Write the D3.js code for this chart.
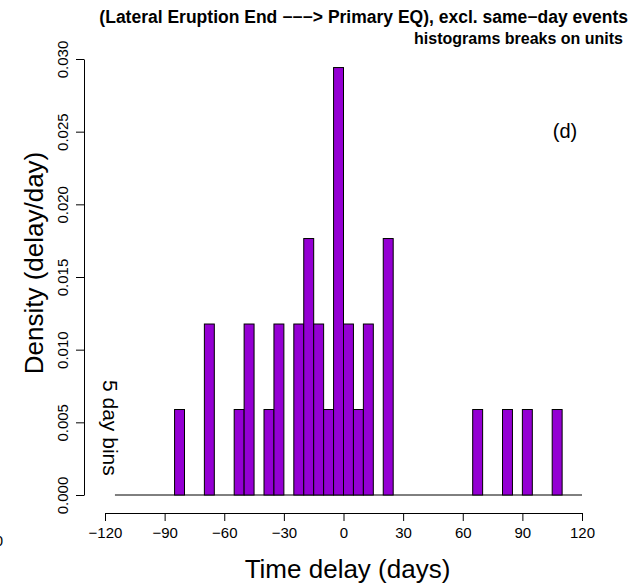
<!DOCTYPE html>
<html>
<head>
<meta charset="utf-8">
<script src="https://cdn.jsdelivr.net/npm/d3@7/dist/d3.min.js"></script>
<style>
  html, body { margin: 0; padding: 0; background: #fff; }
  svg { display: block; font-family: "Liberation Sans", Arial, Helvetica, sans-serif; }
</style>
</head>
<body>
<svg id="chart" width="633" height="583"></svg>
<script>
// Histogram of time delays, 5-day bins (left edge of each bin, in days)
const binStarts = [-115,-110,-105,-100,-95,-90,-85,-80,-75,-70,-65,-60,-55,-50,-45,-40,-35,-30,-25,-20,
                   -15,-10,-5,0,5,10,15,20,25,30,35,40,45,50,55,60,65,70,75,80,85,90,95,100,105,110,115];
const counts    = [0,0,0,0,0,0,1,0,0,2,0,0,1,2,0,1,2,0,2,3,
                   2,1,5,2,1,2,0,3,0,0,0,0,0,0,0,0,1,0,0,1,0,1,0,0,1,0,0];
const binWidth = 5;
const xTicks = [-120, -90, -60, -30, 0, 30, 60, 90, 120];
const yTicks = [0, 0.005, 0.010, 0.015, 0.020, 0.025, 0.030];

const total = d3.sum(counts);
const bins = binStarts.map((s, i) => ({ x0: s, x1: s + binWidth, density: counts[i] / (total * binWidth) }));

const svg = d3.select("#chart");
const x = d3.scaleLinear().domain([-120, 120]).range([105, 582]);
const y = d3.scaleLinear().domain([0, 0.030]).range([495, 59]);

// baseline across the full break range
svg.append("line")
  .attr("x1", x(binStarts[0])).attr("x2", x(binStarts[binStarts.length - 1] + binWidth))
  .attr("y1", y(0)).attr("y2", y(0))
  .attr("stroke", "#000").attr("stroke-width", 1);

// bars
svg.append("g").selectAll("rect")
  .data(bins.filter(d => d.density > 0))
  .join("rect")
  .attr("x", d => x(d.x0))
  .attr("width", d => x(d.x1) - x(d.x0))
  .attr("y", d => y(d.density))
  .attr("height", d => y(0) - y(d.density))
  .attr("fill", "#9400D3")
  .attr("stroke", "#000")
  .attr("stroke-width", 1);

// x axis
const xAxis = svg.append("g")
  .attr("transform", "translate(0,513)")
  .call(d3.axisBottom(x).tickValues(xTicks).tickSize(8).tickSizeOuter(0).tickPadding(6)
        .tickFormat(d3.format("d")));
xAxis.selectAll("text").attr("font-size", 15).attr("font-family", null).attr("fill", "#000");
xAxis.selectAll("line, path").attr("stroke", "#000");

// y axis with labels parallel to the axis
const yAxis = svg.append("g")
  .attr("transform", "translate(84,0)")
  .call(d3.axisLeft(y).tickValues(yTicks).tickSize(8).tickSizeOuter(0)
        .tickFormat(d3.format(".3f")));
yAxis.selectAll("text")
  .attr("x", null).attr("dy", null)
  .attr("text-anchor", "middle")
  .attr("transform", "translate(-16.5,0) rotate(-90)")
  .attr("font-size", 15).attr("font-family", null).attr("fill", "#000");
yAxis.selectAll("line, path").attr("stroke", "#000");

// axis titles
svg.append("text")
  .attr("x", x(0) + 4).attr("y", 578)
  .attr("text-anchor", "middle").attr("font-size", 26)
  .text("Time delay (days)");

svg.append("text")
  .attr("transform", `translate(43,${(y(0) + y(0.03)) / 2 - 14}) rotate(-90)`)
  .attr("text-anchor", "middle").attr("font-size", 26)
  .text("Density (delay/day)");

// headings
svg.append("text")
  .attr("x", 628).attr("y", 23)
  .attr("text-anchor", "end").attr("font-size", 17.5).attr("font-weight", "bold")
  .text("(Lateral Eruption End \u2212\u2212\u2212> Primary EQ), excl. same\u2212day events");

svg.append("text")
  .attr("x", 623).attr("y", 44)
  .attr("text-anchor", "end").attr("font-size", 16).attr("font-weight", "bold")
  .text("histograms breaks on units");

// panel tag and bin note
svg.append("text")
  .attr("x", 565).attr("y", 138)
  .attr("text-anchor", "middle").attr("font-size", 20)
  .text("(d)");

svg.append("text")
  .attr("transform", "translate(103,380) rotate(90)")
  .attr("font-size", 21)
  .text("5 day bins");

// edge of the neighbouring panel's axis label
svg.append("text")
  .attr("x", 3).attr("y", 546)
  .attr("text-anchor", "end").attr("font-size", 15)
  .text("0");
</script>
</body>
</html>
